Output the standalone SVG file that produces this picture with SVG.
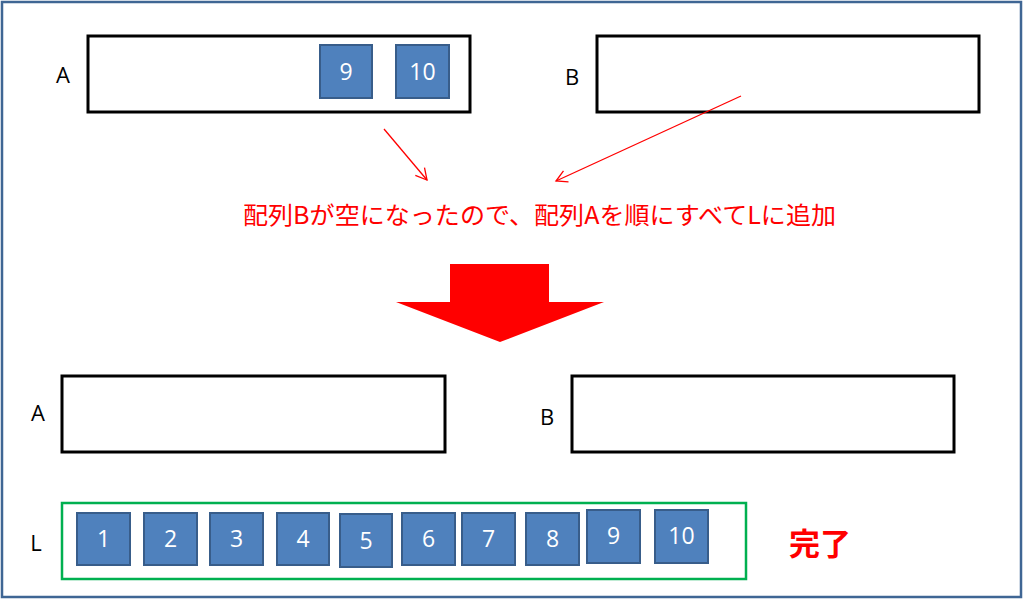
<svg xmlns="http://www.w3.org/2000/svg" width="1024" height="599" viewBox="0 0 1024 599">
<defs>
<style>
.frame{fill:#fff;stroke:#3F6694;stroke-width:2.5}
.arr{fill:#fff;stroke:#000;stroke-width:3}
.sq{fill:#4F81BD;stroke:#385D8A;stroke-width:2}
.num{font-family:"Open Sans","Liberation Sans",sans-serif;font-size:23px;fill:#fff;text-anchor:middle;dominant-baseline:central}
.lbl{font-family:"Open Sans","Liberation Sans",sans-serif;font-size:22px;fill:#000;text-anchor:middle;dominant-baseline:central}
.rl{stroke:#FF0000;stroke-width:1.3;fill:none;marker-end:url(#oh)}
.lst{fill:#fff;stroke:#00B050;stroke-width:2.5}
</style>
<marker id="oh" markerWidth="14" markerHeight="14" refX="12" refY="7" orient="auto" markerUnits="userSpaceOnUse">
<path d="M1,1 L12,7 L1,13" fill="none" stroke="#FF0000" stroke-width="1.3"/>
</marker>
</defs>
<rect class="frame" x="2" y="2" width="1019" height="595"/>

<g id="arrayA-top">
<text class="lbl" x="63" y="74">A</text>
<rect class="arr" x="88" y="36" width="382" height="76"/>
<g id="a9"><rect class="sq" x="320" y="45" width="52" height="53"/><text class="num" x="346" y="71">9</text></g>
<g id="a10"><rect class="sq" x="396" y="45" width="53" height="53"/><text class="num" x="422.5" y="71">10</text></g>
</g>

<g id="arrayB-top">
<text class="lbl" x="572" y="76">B</text>
<rect class="arr" x="597" y="36" width="382" height="76"/>
</g>

<g id="connectors">
<line class="rl" x1="384" y1="129" x2="427" y2="180"/>
<line class="rl" x1="741" y1="96" x2="556" y2="181"/>
</g>

<g id="note">
<text x="243" y="213" font-family="'Noto Sans CJK JP',sans-serif" font-size="24" fill="#FF0000" dominant-baseline="central" textLength="593" lengthAdjust="spacingAndGlyphs">配列Bが空になったので、配列Aを順にすべてLに追加</text>
</g>

<g id="bigArrow">
<polygon points="450,264 549,264 549,302 604,302 500,342 396,302 450,302" fill="#FF0000"/>
</g>

<g id="arrayA-bottom">
<text class="lbl" x="38" y="412">A</text>
<rect class="arr" x="62" y="376" width="383" height="76"/>
</g>

<g id="arrayB-bottom">
<text class="lbl" x="547" y="416">B</text>
<rect class="arr" x="572" y="376" width="382" height="76"/>
</g>

<g id="listL">
<text class="lbl" x="36" y="542">L</text>
<rect class="lst" x="62" y="503" width="684" height="76"/>
<g id="l1"><rect class="sq" x="77" y="513" width="53" height="52"/><text class="num" x="103.5" y="538">1</text></g>
<g id="l2"><rect class="sq" x="144" y="513" width="53" height="52"/><text class="num" x="170.5" y="538">2</text></g>
<g id="l3"><rect class="sq" x="210" y="513" width="53" height="52"/><text class="num" x="236.5" y="538">3</text></g>
<g id="l4"><rect class="sq" x="277" y="513" width="52" height="52"/><text class="num" x="303" y="538">4</text></g>
<g id="l5"><rect class="sq" x="340" y="514" width="52" height="53"/><text class="num" x="366" y="540">5</text></g>
<g id="l6"><rect class="sq" x="402" y="513" width="53" height="52"/><text class="num" x="428.5" y="538">6</text></g>
<g id="l7"><rect class="sq" x="462" y="513" width="53" height="52"/><text class="num" x="488.5" y="538">7</text></g>
<g id="l8"><rect class="sq" x="526" y="513" width="53" height="52"/><text class="num" x="552.5" y="538">8</text></g>
<g id="l9"><rect class="sq" x="587" y="510" width="53" height="53"/><text class="num" x="613.5" y="535">9</text></g>
<g id="l10"><rect class="sq" x="655" y="510" width="53" height="53"/><text class="num" x="681.5" y="535">10</text></g>
</g>

<g id="done">
<text x="820" y="541" font-family="'Noto Sans CJK JP',sans-serif" font-size="31" font-weight="bold" fill="#FF0000" text-anchor="middle" dominant-baseline="central">完了</text>
</g>
</svg>
